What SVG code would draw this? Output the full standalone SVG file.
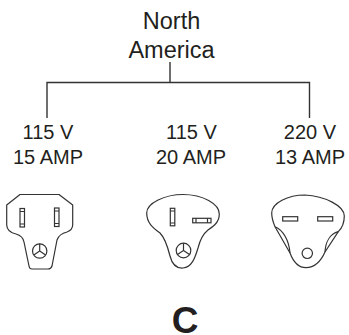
<svg xmlns="http://www.w3.org/2000/svg" width="349" height="335" viewBox="0 0 349 335">
<style>
text{font-family:"Liberation Sans",Arial,sans-serif;fill:#231f20;text-anchor:middle}
.h{font-size:23.5px}.l{font-size:20px}
.c{fill:none;stroke:#333;stroke-width:1.4}
.p{fill:#fff;stroke:#333;stroke-width:1.2;stroke-linejoin:round}
.t{fill:none;stroke:#333;stroke-width:1.2}
</style>
<rect width="349" height="335" fill="#fff"/>
<g id="connectors"><path class="c" d="M170 62V82M47 118V82.500H309.500V118"/></g>
<g id="root"><text class="h" x="171.500" y="29">North</text><text class="h" x="171.500" y="58">America</text></g>
<g id="n1"><text class="l" x="48" y="138.500">115 V</text><text class="l" x="48" y="164">15 AMP</text>
<path class="p" d="M20 194.500H59L72.700 205V225Q72.500 230 67 232Q59 234 57 240L52 266Q51 269 48 269H32Q29.500 269 29 266L24 242Q23 236 16 234Q7 232 6.700 225V205Z"/>
<rect class="t" x="20" y="208.500" width="4.500" height="18.500"/><path class="t" d="M20 211.500H24.500M20 224H24.500"/>
<rect class="t" x="54.500" y="208" width="4.500" height="18.500"/><path class="t" d="M54.500 211H59M54.500 223.500H59"/>
<circle class="t" cx="39.700" cy="251" r="7.200"/><path class="t" d="M39.700 243.800V251L33.800 255M39.700 251L45.600 255"/></g>
<g id="n2"><text class="l" x="191.500" y="138.500">115 V</text><text class="l" x="191" y="164">20 AMP</text>
<path class="p" d="M183 194.500C203 194.500 219.300 204 219.300 214C219.300 222 214 226 208 230C203 234 200 240 198 248C195 258 192 267 183 268C176 268.500 172 264 170 256C168 248 165 238 160 233C153 228 146.700 223 146.700 213C146.700 203 165 194.500 183 194.500Z"/>
<rect class="t" x="170.300" y="208.300" width="4.500" height="17.500"/><path class="t" d="M170.300 211H174.800M170.300 223H174.800"/>
<rect class="t" x="192.700" y="218.300" width="18.300" height="4.500"/><path class="t" d="M196 218.300V222.800M207.500 218.300V222.800"/>
<circle class="t" cx="183.500" cy="250.500" r="7.300"/><path class="t" d="M183.500 243.200V250.500L177.500 254.500M183.500 250.500L189.500 254.500"/></g>
<g id="n3"><text class="l" x="310" y="138.500">220 V</text><text class="l" x="310" y="164">13 AMP</text>
<path class="p" d="M305 195C325 196 344.300 206 344.300 216C344.300 222 342 228 338.300 231.700L325 252C321 261 315 267.500 306 267.700C298 267.700 293 261 290 253L275 226.700C273 222 271.700 218 271.700 213C271.700 203 288 195 305 195Z"/>
<path class="t" d="M275 226.700C283 230 289 240 290 253M338.300 231.700C330 234 325.500 242 325 252"/>
<rect class="t" x="282.700" y="216.700" width="15" height="4.300"/><rect class="t" x="317.700" y="216.700" width="15" height="4.300"/>
<circle class="t" cx="307.300" cy="253.300" r="5.200"/></g>
<g id="label"><text x="185" y="333" font-size="37" font-weight="700">C</text></g>
</svg>
